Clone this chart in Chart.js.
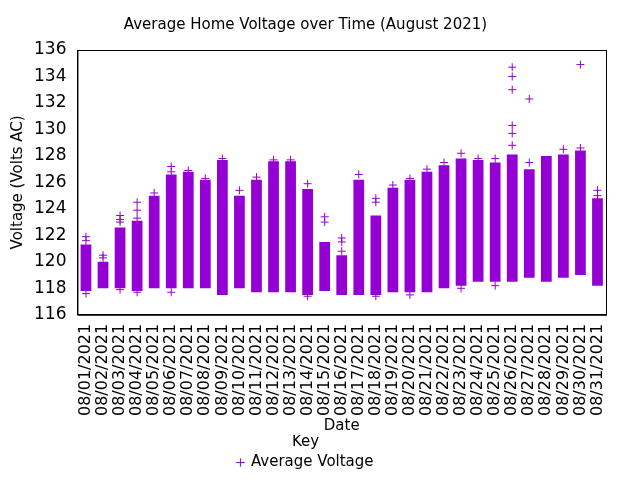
<!DOCTYPE html>
<html><head><script src="https://cdn.jsdelivr.net/npm/chart.js@4"></script>
<style>body{margin:0;background:#fff}#w{width:640px;height:480px}</style></head>
<body><div id="w"><canvas id="c"></canvas></div>
<script>
const dates = Array.from({length:31},(_,i)=>'08/'+String(i+1).padStart(2,'0')+'/2021');
const boxLow  = [117.8,118,118,117.8,118,118,118,118,117.5,118,117.7,117.7,117.7,117.5,117.8,117.5,117.5,117.5,117.7,117.7,117.7,118,118.2,118.5,118.5,118.5,118.8,118.5,118.8,119,118.2];
const boxHigh = [121.3,120,122.6,123.1,125,126.6,126.8,126.2,127.7,125,126.2,127.6,127.6,125.5,121.5,120.5,126.2,123.5,125.6,126.2,126.8,127.3,127.8,127.7,127.5,128.1,127,128,128.1,128.4,124.8];
const outliers = [[121.9,121.6,117.6],[120.5,120.3],[123.5,123.2,123,117.9],[124.5,123.9,123.3,117.7],[125.2],[127.2,126.8,117.7],[126.9],[126.3],[127.8],[125.4],[126.4],[127.7],[127.7],[125.9,117.4],[123.4,123],[121.8,121.5,120.8],[126.6],[124.8,124.5,117.4],[125.8],[126.3,117.5],[127],[127.5],[128.2,118],[127.8],[127.8,118.2],[134.7,134,133,130.3,129.7,128.8],[132.3,127.5],[],[128.5],[134.9,128.6],[125.4,125]];
const pts=[];outliers.forEach((a,i)=>a.forEach(v=>pts.push({x:dates[i],y:v})));
const col='#9400d3';
const frame={id:'frame',afterDraw(c){const a=c.chartArea,x=c.ctx;x.save();x.strokeStyle='#000';x.lineWidth=1;x.strokeRect(a.left+.5,a.top+.5,a.width,a.height);x.restore();}};
new Chart(document.getElementById('c'),{
 data:{labels:dates,datasets:[
  {type:'bar',label:'box',data:boxLow.map((l,i)=>[l,boxHigh[i]]),backgroundColor:col,barPercentage:0.7,categoryPercentage:0.9},
  {type:'line',label:'Average Voltage',data:pts,showLine:false,borderColor:col,backgroundColor:col,pointStyle:'cross',pointRadius:4,borderWidth:1}
 ]},
 options:{responsive:true,maintainAspectRatio:false,animation:false,
  layout:{padding:{left:5,right:34,top:8,bottom:0}},
  plugins:{title:{display:true,text:'Average Home Voltage over Time (August 2021)',color:'#000',font:{family:'DejaVu Sans',size:15,weight:'normal'},padding:{top:8,bottom:16}},
   legend:{position:'bottom',title:{display:true,text:'Key',color:'#000',font:{family:'DejaVu Sans',size:15},padding:0},
    labels:{filter:i=>i.text!=='box',usePointStyle:true,boxWidth:6,boxHeight:6,color:'#000',font:{family:'DejaVu Sans',size:15},padding:2}},
   tooltip:{enabled:false}},
  scales:{
   x:{grid:{display:false},border:{color:'#000'},ticks:{color:'#000',maxRotation:90,minRotation:90,autoSkip:false,font:{family:'DejaVu Sans',size:16},padding:1},
      title:{display:true,text:'Date',color:'#000',font:{family:'DejaVu Sans',size:15},padding:0}},
   y:{min:116,max:136,grid:{display:false},border:{color:'#000'},ticks:{stepSize:2,color:'#000',font:{family:'DejaVu Sans',size:17}},
      title:{display:true,text:'Voltage (Volts AC)',color:'#000',font:{family:'DejaVu Sans',size:15}}}
  }},
 plugins:[frame]
});
</script></body></html>
